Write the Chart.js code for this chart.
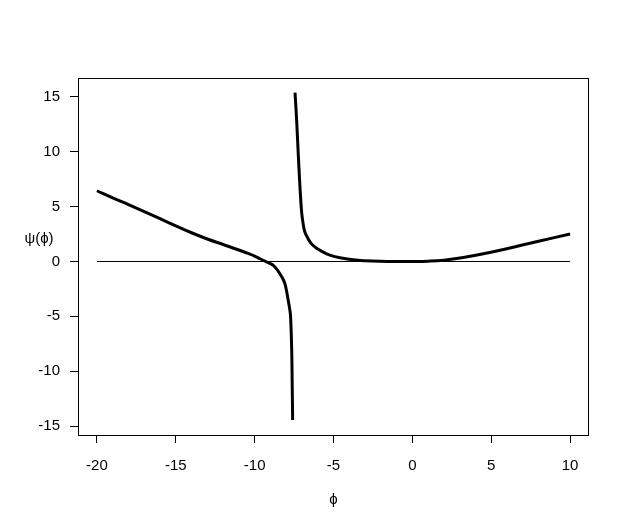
<!DOCTYPE html>
<html>
<head>
<meta charset="utf-8">
<script src="https://cdn.jsdelivr.net/npm/chart.js@4/dist/chart.umd.min.js"></script>
<style>
  html, body { margin: 0; padding: 0; background: #fff; }
  #wrap { width: 629px; height: 532px; }
</style>
</head>
<body>
<div id="wrap"><canvas id="grafica" width="629" height="532"></canvas></div>
<script>
// rama izquierda de psi(phi)
const leftPhi = [-20, -19, -18, -17, -16, -15, -14, -13, -12, -11, -10.5, -10, -9.66, -9.3, -9.0, -8.82, -8.6, -8.40, -8.22, -8.08, -7.96, -7.87, -7.78, -7.72, -7.65, -7.62, -7.59];
const leftPsi = [6.45, 5.80, 5.18, 4.55, 3.90, 3.25, 2.62, 2.05, 1.55, 1.05, 0.78, 0.50, 0.25, 0.0, -0.20, -0.36, -0.70, -1.12, -1.55, -2.03, -2.80, -3.55, -4.30, -5.06, -8.09, -11.1, -14.45];

// rama derecha
const rightPhi = [-7.44, -7.34, -7.24, -7.13, -7.02, -6.92, -6.81, -6.6, -6.39, -6.0, -5.65, -5.23, -4.5, -3.75, -3, -2, -1, 0, 1, 2, 3.23, 4.5, 6.4, 8, 10];
const rightPsi = [15.39, 12.97, 9.94, 6.9, 4.48, 3.4, 2.66, 2.05, 1.6, 1.15, 0.85, 0.58, 0.32, 0.15, 0.07, 0.02, 0.0, 0.0, 0.03, 0.12, 0.36, 0.7, 1.3, 1.85, 2.5];

// linea horizontal en cero
const zeroPhi = [-20, 10];
const zeroPsi = [0, 0];

const xTicks = [-20, -15, -10, -5, 0, 5, 10];
const yTicks = [-15, -10, -5, 0, 5, 10, 15];

const FUENTE = "'Liberation Sans', Arial, sans-serif";

function puntos(xs, ys) {
    return xs.map((x, i) => ({ x: x, y: ys[i] }));
}

const marco = {
    id: 'marco',
    afterDraw(chart) {
        const { ctx, chartArea: a } = chart;
        ctx.save();
        ctx.strokeStyle = '#000';
        ctx.lineWidth = 1;
        ctx.strokeRect(Math.round(a.left) + 0.5, Math.round(a.top) + 0.5,
            Math.round(a.right - a.left) - 1, Math.round(a.bottom - a.top));
        ctx.fillStyle = '#000';
        ctx.font = '15px ' + FUENTE;
        ctx.textAlign = 'center';
        ctx.textBaseline = 'middle';
        ctx.fillText('\u03C8(\u03D5)', 39, 239);
        ctx.restore();
    }
};

new Chart(document.getElementById('grafica'), {
    type: 'scatter',
    data: {
        datasets: [
            {
                data: puntos(leftPhi, leftPsi),
                showLine: true,
                borderColor: '#000',
                borderWidth: 3,
                pointRadius: 0,
                tension: 0.4
            },
            {
                data: puntos(rightPhi, rightPsi),
                showLine: true,
                borderColor: '#000',
                borderWidth: 3,
                pointRadius: 0,
                tension: 0.4
            },
            {
                data: puntos(zeroPhi, zeroPsi),
                showLine: true,
                borderColor: '#000',
                borderWidth: 1,
                pointRadius: 0
            }
        ]
    },
    options: {
        responsive: false,
        animation: false,
        layout: { padding: { left: 0, top: 78, right: 40, bottom: 0 } },
        plugins: {
            legend: { display: false },
            tooltip: { enabled: false }
        },
        scales: {
            x: {
                type: 'linear',
                min: -21.2,
                max: 11.2,
                afterBuildTicks: (s) => { s.ticks = xTicks.map(v => ({ value: v })); },
                afterFit: (s) => { s.height = 97; },
                grid: { drawOnChartArea: false, drawTicks: true, tickLength: 8, color: '#000' },
                border: { display: false },
                ticks: { color: '#000', font: { family: FUENTE, size: 15 }, padding: 14, maxRotation: 0 },
                title: {
                    display: true,
                    text: '\u03D5',
                    color: '#000',
                    font: { family: FUENTE, size: 15 },
                    padding: { top: 0, bottom: 23 }
                }
            },
            y: {
                type: 'linear',
                min: -15.82,
                max: 16.73,
                afterBuildTicks: (s) => { s.ticks = yTicks.map(v => ({ value: v })); },
                afterFit: (s) => { s.width = 78; },
                grid: { drawOnChartArea: false, drawTicks: true, tickLength: 8, color: '#000' },
                border: { display: false },
                ticks: { color: '#000', font: { family: FUENTE, size: 15 }, padding: 10 }
            }
        }
    },
    plugins: [marco]
});
</script>
</body>
</html>
